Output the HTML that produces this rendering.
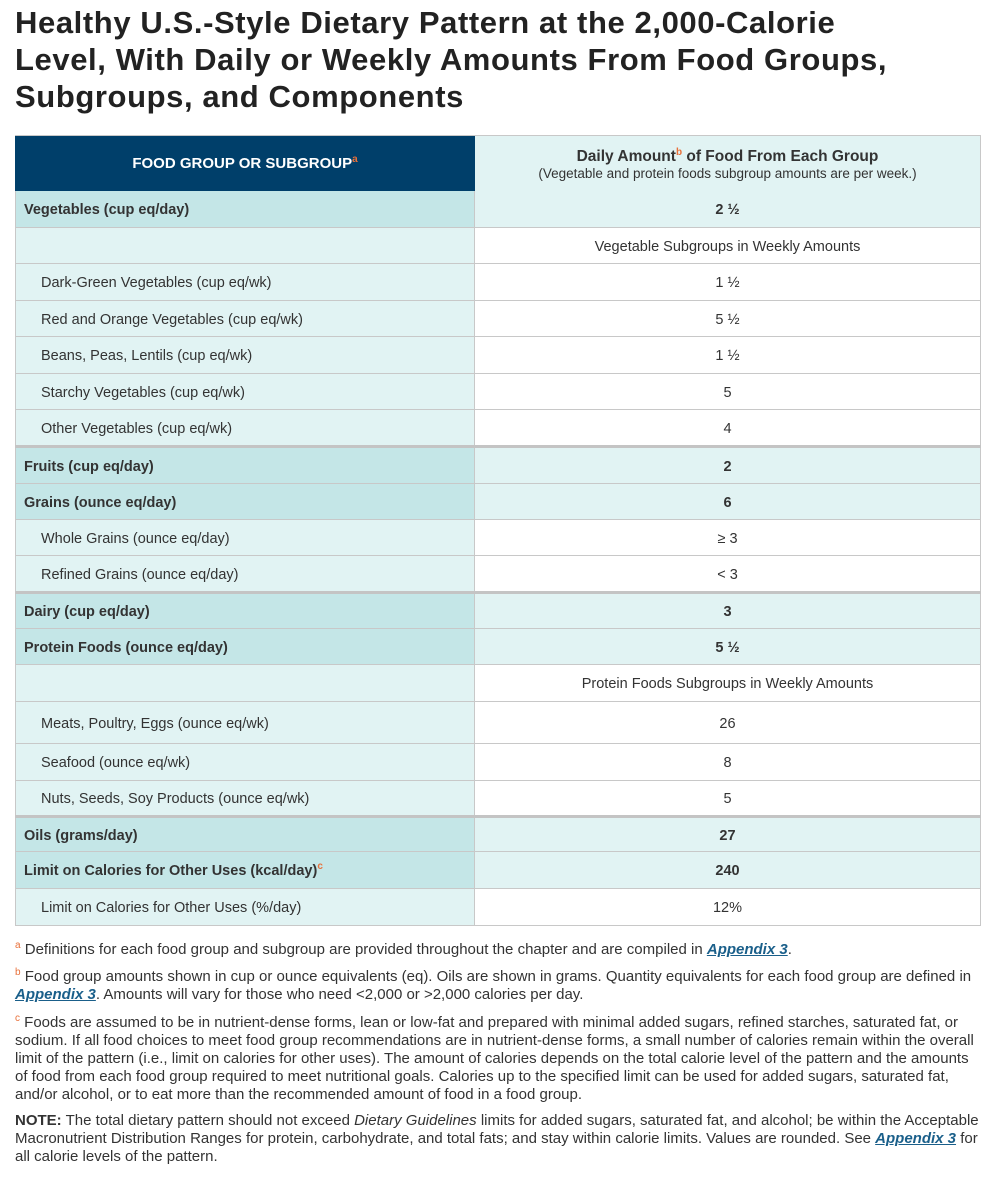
<!DOCTYPE html>
<html><head><meta charset="utf-8"><style>
body{margin:0;width:1000px;height:1180px;background:#fff;font-family:"Liberation Sans",sans-serif;color:#333;position:relative;overflow:hidden}
h1{position:absolute;left:15px;top:4px;margin:0;font-size:31px;line-height:37px;font-weight:bold;color:#222;letter-spacing:0.6px;white-space:nowrap}
.r{position:absolute;left:15px;width:966px;display:flex;border-bottom:1px solid #c8c8c8;box-sizing:border-box;font-size:14.5px}
.r.t{border-bottom:3px solid #c4c4c4}
.l{width:460px;border-left:1px solid #c8c8c8;border-right:1px solid #c8c8c8;display:flex;align-items:center;padding-left:8px;padding-top:2px;box-sizing:border-box}
.v{flex:1;display:flex;align-items:center;justify-content:center;border-right:1px solid #c8c8c8;padding-top:2px}
.g .l{background:#c4e6e7;font-weight:bold}
.g .v{background:#e1f3f3;font-weight:bold}
.s .l{background:#e1f3f3;padding-left:25px}
.s .v{background:#fff}
sup{color:#e8703a;font-size:10px;vertical-align:6px;line-height:0}
.fn{position:absolute;left:15px;width:980px;font-size:15px;line-height:18px;color:#333;white-space:nowrap}
a{color:#1a5f8a;font-weight:bold;font-style:italic;text-decoration:underline}
</style></head><body>
<h1>Healthy U.S.-Style Dietary Pattern at the 2,000-Calorie<br>Level, With Daily or Weekly Amounts From Food Groups,<br>Subgroups, and Components</h1>
<div class="r" style="top:135px;height:57px;border-top:1px solid #c8c8c8">
<div class="l" style="background:#003f6a;color:#fff;font-weight:bold;justify-content:center;padding:0;font-size:15px;border-color:#003f6a"><span>FOOD GROUP OR SUBGROUP<sup>a</sup></span></div>
<div class="v" style="background:#e1f3f3;flex-direction:column;text-align:center"><div style="font-weight:bold;font-size:15.5px">Daily Amount<sup>b</sup> of Food From Each Group</div><div style="font-size:13.5px">(Vegetable and protein foods subgroup amounts are per week.)</div></div></div>
<div class="r g" style="top:191px;height:37px"><div class="l">Vegetables (cup eq/day)</div><div class="v">2 ½</div></div>
<div class="r s" style="top:228px;height:36px"><div class="l"></div><div class="v">Vegetable Subgroups in Weekly Amounts</div></div>
<div class="r s" style="top:264px;height:37px"><div class="l">Dark-Green Vegetables (cup eq/wk)</div><div class="v">1 ½</div></div>
<div class="r s" style="top:301px;height:36px"><div class="l">Red and Orange Vegetables (cup eq/wk)</div><div class="v">5 ½</div></div>
<div class="r s" style="top:337px;height:37px"><div class="l">Beans, Peas, Lentils (cup eq/wk)</div><div class="v">1 ½</div></div>
<div class="r s" style="top:374px;height:36px"><div class="l">Starchy Vegetables (cup eq/wk)</div><div class="v">5</div></div>
<div class="r s t" style="top:410px;height:38px"><div class="l">Other Vegetables (cup eq/wk)</div><div class="v">4</div></div>
<div class="r g" style="top:448px;height:36px"><div class="l">Fruits (cup eq/day)</div><div class="v">2</div></div>
<div class="r g" style="top:484px;height:36px"><div class="l">Grains (ounce eq/day)</div><div class="v">6</div></div>
<div class="r s" style="top:520px;height:36px"><div class="l">Whole Grains (ounce eq/day)</div><div class="v">≥ 3</div></div>
<div class="r s t" style="top:556px;height:38px"><div class="l">Refined Grains (ounce eq/day)</div><div class="v">&lt; 3</div></div>
<div class="r g" style="top:594px;height:35px"><div class="l">Dairy (cup eq/day)</div><div class="v">3</div></div>
<div class="r g" style="top:629px;height:36px"><div class="l">Protein Foods (ounce eq/day)</div><div class="v">5 ½</div></div>
<div class="r s" style="top:665px;height:37px"><div class="l"></div><div class="v">Protein Foods Subgroups in Weekly Amounts</div></div>
<div class="r s" style="top:702px;height:42px"><div class="l">Meats, Poultry, Eggs (ounce eq/wk)</div><div class="v">26</div></div>
<div class="r s" style="top:744px;height:37px"><div class="l">Seafood (ounce eq/wk)</div><div class="v">8</div></div>
<div class="r s t" style="top:781px;height:37px"><div class="l">Nuts, Seeds, Soy Products (ounce eq/wk)</div><div class="v">5</div></div>
<div class="r g" style="top:818px;height:34px"><div class="l">Oils (grams/day)</div><div class="v">27</div></div>
<div class="r g" style="top:852px;height:37px"><div class="l"><span>Limit on Calories for Other Uses (kcal/day)<sup>c</sup></span></div><div class="v">240</div></div>
<div class="r s" style="top:889px;height:37px"><div class="l">Limit on Calories for Other Uses (%/day)</div><div class="v">12%</div></div>
<div class="fn" style="top:941px"><sup>a</sup> Definitions for each food group and subgroup are provided throughout the chapter and are compiled in <a>Appendix 3</a>.</div>
<div class="fn" style="top:968px"><sup>b</sup> Food group amounts shown in cup or ounce equivalents (eq). Oils are shown in grams. Quantity equivalents for each food group are defined in<br><a>Appendix 3</a>. Amounts will vary for those who need &lt;2,000 or &gt;2,000 calories per day.</div>
<div class="fn" style="top:1014px"><sup>c</sup> Foods are assumed to be in nutrient-dense forms, lean or low-fat and prepared with minimal added sugars, refined starches, saturated fat, or<br>sodium. If all food choices to meet food group recommendations are in nutrient-dense forms, a small number of calories remain within the overall<br>limit of the pattern (i.e., limit on calories for other uses). The amount of calories depends on the total calorie level of the pattern and the amounts<br>of food from each food group required to meet nutritional goals. Calories up to the specified limit can be used for added sugars, saturated fat,<br>and/or alcohol, or to eat more than the recommended amount of food in a food group.</div>
<div class="fn" style="top:1112px"><b>NOTE:</b> The total dietary pattern should not exceed <i>Dietary Guidelines</i> limits for added sugars, saturated fat, and alcohol; be within the Acceptable<br>Macronutrient Distribution Ranges for protein, carbohydrate, and total fats; and stay within calorie limits. Values are rounded. See <a>Appendix 3</a> for<br>all calorie levels of the pattern.</div>
</body></html>
